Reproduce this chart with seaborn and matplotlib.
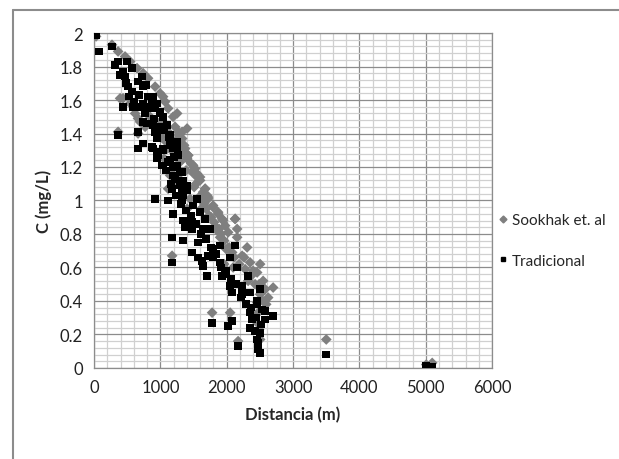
import matplotlib
matplotlib.use("Agg")
import matplotlib.pyplot as plt
import seaborn as sns
import pandas as pd
from matplotlib.ticker import MultipleLocator, FuncFormatter
from matplotlib.lines import Line2D

# --- data ---
series_names = ["Sookhak et. al", "Tradicional"]

sook_x = [0, 30, 270, 362, 467, 543, 648, 739, 814, 920, 995, 1071, 1116, 1191, 1267, 1327,
          1372, 1418, 1493, 1553, 1598, 1674, 1719, 1794, 1870, 1945, 2126, 2156, 437, 362,
          663, 663, 769, 1116, 1101, 1191, 1478, 1402, 1297, 1191, 1402, 1553, 1644, 1719,
          1794, 1870, 1930, 1975, 2021, 2126, 2156, 2307, 2232, 2352, 2503, 2458, 2548, 2699,
          2503, 2458, 2473, 2458, 2503, 2171, 2051, 1779, 1176, 1116, 1402, 1448, 2096, 2081,
          1900, 1990, 3500, 5007, 5097, 1040, 1252, 1327, 1418, 1523, 1598, 1674, 1704, 1191,
          1342, 1402, 995, 1221, 1282, 1357, 1463, 1538, 1613, 1689, 1764, 1840, 1915, 2262,
          2397, 2488, 2579, 2624,
          392, 543, 618, 693, 844, 920, 1010, 1086, 1161, 1237, 1312, 1055, 1146, 1282, 1387,
          1508, 1583, 1659, 1734, 1809, 1885, 1960, 2036, 2111, 2186, 2277, 2367, 2428, 2518,
          2594, 2563, 1855, 1613, 1960, 2322, 2488]
sook_y = [1.99, 1.98, 1.93, 1.89, 1.86, 1.83, 1.79, 1.76, 1.73, 1.68, 1.64, 1.59, 1.55, 1.50,
          1.41, 1.37, 1.31, 1.27, 1.21, 1.16, 1.12, 1.07, 1.02, 0.97, 0.92, 0.88, 0.89, 0.83,
          1.61, 1.41, 1.49, 1.40, 1.44, 1.41, 1.31, 1.19, 1.17, 1.25, 1.23, 1.29, 1.26, 1.14,
          1.05, 1.01, 0.96, 0.93, 0.89, 0.85, 0.81, 0.89, 0.78, 0.72, 0.67, 0.63, 0.62, 0.57,
          0.52, 0.48, 0.44, 0.39, 0.33, 0.27, 0.17, 0.16, 0.33, 0.33, 0.67, 1.07, 0.95, 1.01,
          0.60, 0.69, 0.78, 0.71, 0.17, 0.02, 0.03, 1.62, 1.52, 1.41, 1.27, 1.19, 1.14, 1.07,
          1.03, 1.09, 1.09, 1.43, 1.47, 1.44, 1.39, 1.33, 1.22, 1.10, 1.02, 0.95, 0.90, 0.84,
          0.80, 0.66, 0.58, 0.50, 0.47, 0.42,
          1.61, 1.58, 1.52, 1.47, 1.50, 1.46, 1.38, 1.35, 1.33, 1.36, 1.28, 1.25, 1.15, 1.13,
          1.18, 1.08, 1.02, 0.98, 0.91, 0.87, 0.83, 0.76, 0.72, 0.66, 0.62, 0.59, 0.55, 0.50,
          0.41, 0.38, 0.47, 0.82, 0.95, 0.62, 0.52, 0.23]

trad_x = [0, 30, 75, 270, 317, 362, 497, 437, 467, 573, 513, 573, 437, 588, 648, 769, 769,
          663, 724, 739, 814, 874, 920, 995, 799, 739, 663, 890, 950, 362, 739, 663, 874, 950,
          1040, 1146, 1252, 950, 1025, 1116, 1191, 1297, 1221, 1342, 1327, 1402, 1176, 920,
          1116, 1327, 1553, 1493, 1598, 1191, 1372, 1478, 1674, 1644, 1749, 1342, 1372, 1478,
          1176, 1342, 1478, 1568, 1629, 1644, 1719, 1794, 1794, 1900, 1900, 1930, 1975, 2051,
          2051, 2081, 2156, 2126, 2322, 2232, 2232, 2352, 2458, 2503, 2458, 2533, 2579, 2579,
          2699, 2352, 2382, 2352, 2428, 2503, 2473, 2473, 2503, 2458, 2171, 2081, 2021, 1779,
          1176, 3500, 5007, 5097, 739, 769, 739, 890, 950, 995, 1040, 920, 950, 1101, 1146, 890,
          965, 1040, 1191, 1252, 1146, 1040, 1252, 1327, 1191, 1297, 1402, 1342,
          392, 482, 528, 603, 678, 784, 829, 905, 980, 1055, 1131, 1206, 1267, 1086, 1161,
          1237, 1312, 1387, 1463, 1538, 1613, 1689, 1764, 1840, 1915, 1990, 2066, 2141, 2217,
          2292, 2367, 2443, 2518, 1704, 1568]
trad_y = [2.00, 1.99, 1.89, 1.92, 1.81, 1.83, 1.83, 1.77, 1.74, 1.79, 1.68, 1.65, 1.56, 1.56,
          1.56, 1.56, 1.52, 1.71, 1.74, 1.68, 1.62, 1.59, 1.55, 1.52, 1.46, 1.47, 1.41, 1.45,
          1.41, 1.39, 1.34, 1.31, 1.32, 1.29, 1.30, 1.33, 1.32, 1.25, 1.21, 1.23, 1.20, 1.17,
          1.13, 1.12, 1.05, 1.09, 1.07, 1.01, 1.00, 1.00, 1.01, 0.97, 0.93, 0.92, 0.88, 0.87,
          0.89, 0.83, 0.83, 0.88, 0.84, 0.83, 0.78, 0.76, 0.69, 0.75, 0.64, 0.61, 0.67, 0.66,
          0.71, 0.73, 0.63, 0.55, 0.56, 0.66, 0.49, 0.45, 0.60, 0.73, 0.55, 0.49, 0.44, 0.45,
          0.40, 0.47, 0.38, 0.35, 0.34, 0.29, 0.31, 0.33, 0.29, 0.24, 0.22, 0.21, 0.15, 0.11,
          0.09, 0.17, 0.13, 0.28, 0.25, 0.27, 0.63, 0.08, 0.01, 0.005, 1.58, 1.52, 1.47, 1.62,
          1.58, 1.53, 1.50, 1.41, 1.37, 1.45, 1.39, 1.31, 1.27, 1.31, 1.31, 1.35, 1.24, 1.21,
          1.21, 1.17, 1.15, 1.09, 1.06, 1.03,
          1.75, 1.70, 1.62, 1.59, 1.63, 1.69, 1.55, 1.49, 1.44, 1.42, 1.38, 1.26, 1.27, 1.18,
          1.10, 1.03, 0.98, 0.94, 0.91, 0.86, 0.80, 0.77, 0.72, 0.68, 0.60, 0.58, 0.53, 0.50,
          0.42, 0.38, 0.36, 0.30, 0.26, 0.55, 0.66]

x_ticks = [0, 1000, 2000, 3000, 4000, 5000, 6000]
y_ticks = [0, 0.2, 0.4, 0.6, 0.8, 1.0, 1.2, 1.4, 1.6, 1.8, 2.0]

df = pd.concat([
    pd.DataFrame({"Distancia": sook_x, "C": sook_y, "Serie": series_names[0]}),
    pd.DataFrame({"Distancia": trad_x, "C": trad_y, "Serie": series_names[1]}),
], ignore_index=True)

sns.set_style("white")
plt.rcParams["font.family"] = ["Lato", "DejaVu Sans"]

fig = plt.figure(figsize=(6.19, 4.60), dpi=100)
ax = fig.add_axes([0.152, 0.198, 0.643, 0.728])

palette = {series_names[0]: "#7f7f7f", series_names[1]: "#000000"}
markers = {series_names[0]: "D", series_names[1]: "s"}
sns.scatterplot(data=df, x="Distancia", y="C", hue="Serie", style="Serie",
                palette=palette, markers=markers, s=30, linewidth=0,
                ax=ax, legend=False, zorder=3)

ax.set_xlim(0, 6000)
ax.set_ylim(0, 2)
ax.set_xticks(x_ticks)
ax.set_yticks(y_ticks)
ax.xaxis.set_minor_locator(MultipleLocator(200))
ax.yaxis.set_minor_locator(MultipleLocator(0.04))
ax.grid(which="minor", color="#d0d0d0", linewidth=0.9, zorder=0)
ax.grid(which="major", color="#8c8c8c", linewidth=0.9, zorder=1)
ax.set_axisbelow(True)
ax.yaxis.set_major_formatter(FuncFormatter(lambda v, p: f"{v:g}"))
ax.tick_params(axis="both", which="both", length=0, labelsize=12, colors="#222222")
ax.tick_params(axis="x", pad=8)
ax.tick_params(axis="y", pad=8)
for sp in ax.spines.values():
    sp.set_color("#8c8c8c")
    sp.set_linewidth(0.9)

ax.set_xlabel("Distancia (m)", fontsize=12, fontweight="bold", labelpad=8)
ax.set_ylabel("C (mg/L)", fontsize=12, fontweight="bold", labelpad=6)

handles = [Line2D([], [], marker="D", color="#7f7f7f", linestyle="none", markersize=3.5),
           Line2D([], [], marker="s", color="#000000", linestyle="none", markersize=3.5)]
fig.legend(handles, series_names, loc="upper left", bbox_to_anchor=(0.778, 0.565),
           frameon=False, fontsize=11, handletextpad=0.1, labelspacing=1.75,
           handlelength=1.0)

# outer chart frame (top and left edges visible)
fig.add_artist(Line2D([0.021, 1.0], [0.977, 0.977], color="#8c8c8c", linewidth=1.5,
                      transform=fig.transFigure))
fig.add_artist(Line2D([0.021, 0.021], [0.0, 0.977], color="#8c8c8c", linewidth=1.5,
                      transform=fig.transFigure))

fig.savefig("out.png", dpi=100)
